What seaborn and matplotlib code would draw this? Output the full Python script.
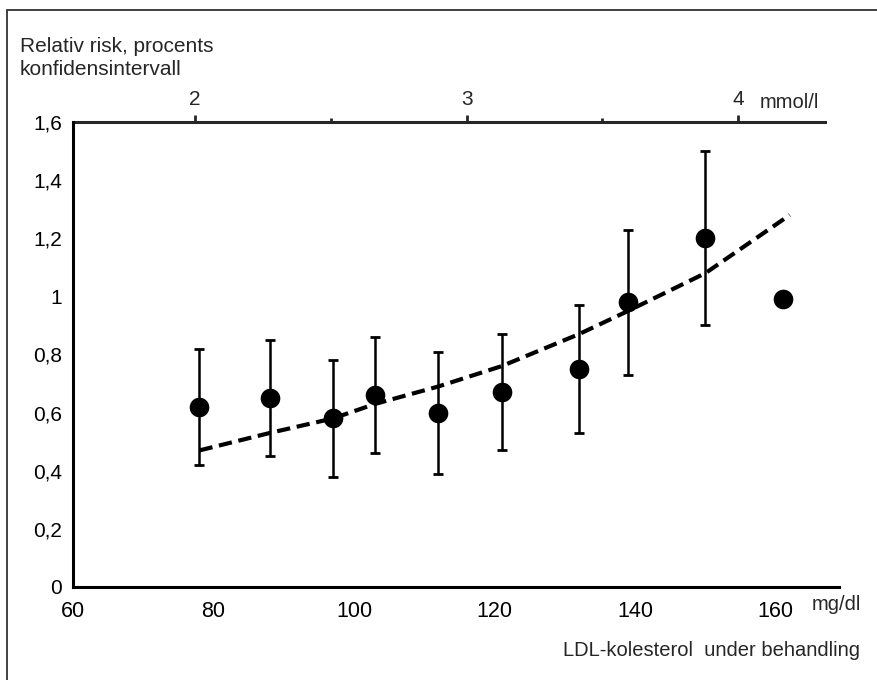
import matplotlib
matplotlib.use("Agg")
import matplotlib.pyplot as plt
import seaborn as sns
import pandas as pd
from matplotlib.patches import Rectangle
from matplotlib.ticker import FixedLocator

sns.set_style("white")
plt.rcParams['font.family'] = ['Liberation Sans', 'DejaVu Sans']

# LDL (mg/dl), relative risk and confidence interval
ldl = [78, 88, 97, 103, 112, 121, 132, 139, 150, 161]
risk = [0.62, 0.65, 0.58, 0.66, 0.60, 0.67, 0.75, 0.98, 1.20, 0.99]
ci_low = [0.42, 0.45, 0.38, 0.46, 0.39, 0.47, 0.53, 0.73, 0.90, None]
ci_high = [0.82, 0.85, 0.78, 0.86, 0.81, 0.87, 0.97, 1.23, 1.50, None]

# dashed trend curve
curve_x = [78, 88, 97, 103, 112, 121, 132, 139, 150, 162]
curve_y = [0.47, 0.53, 0.58, 0.63, 0.69, 0.76, 0.87, 0.95, 1.08, 1.28]

y_ticks = [0, 0.2, 0.4, 0.6, 0.8, 1.0, 1.2, 1.4, 1.6]
y_labels = ['0', '0,2', '0,4', '0,6', '0,8', '1', '1,2', '1,4', '1,6']
x_ticks = [60, 80, 100, 120, 140, 160]
mmol_ticks = [2, 3, 4]
mmol_minor = [2.5, 3.5]
MG_PER_MMOL = 38.67

df = pd.DataFrame({'ldl': ldl, 'risk': risk, 'lo': ci_low, 'hi': ci_high})
curve = pd.DataFrame({'x': curve_x, 'y': curve_y})

fig = plt.figure(figsize=(8.77, 6.80), dpi=100)
ax = fig.add_axes([73 / 877, 93 / 680, 773 / 877, 465 / 680])

# error bars
eb = df.dropna()
ax.errorbar(eb['ldl'], eb['risk'],
            yerr=[eb['risk'] - eb['lo'], eb['hi'] - eb['risk']],
            fmt='none', ecolor='black', elinewidth=1.8, capsize=3.8, capthick=2, zorder=2)

sns.lineplot(data=curve, x='x', y='y', ax=ax, color='black', linewidth=3,
             linestyle=(0, (3.2, 1.6)), zorder=3)
sns.scatterplot(data=df, x='ldl', y='risk', ax=ax, color='black', s=200,
                edgecolor='black', linewidth=0, zorder=4)

ax.set_xlim(60, 170)
ax.set_ylim(0, 1.6)
ax.set_xlabel('')
ax.set_ylabel('')
ax.set_yticks(y_ticks)
ax.set_yticklabels(y_labels)
ax.set_xticks(x_ticks)
ax.set_xticklabels([str(t) for t in x_ticks])
ax.tick_params(axis='both', which='major', direction='out', length=5, width=2,
               labelsize=15, color='black', labelcolor='black', pad=3)
ax.tick_params(axis='x', labelsize=15.5, pad=5)

for side in ['left', 'bottom']:
    ax.spines[side].set_linewidth(2.2)
    ax.spines[side].set_color('black')
ax.spines['right'].set_visible(False)
ax.spines['top'].set_visible(False)
ax.spines['bottom'].set_bounds(60, 169)

# top axis in mmol/l
top = ax.secondary_xaxis('top', functions=(lambda v: v / MG_PER_MMOL, lambda v: v * MG_PER_MMOL))
top.set_xticks(mmol_ticks)
top.set_xticklabels([str(t) for t in mmol_ticks], fontsize=15)
top.xaxis.set_minor_locator(FixedLocator(mmol_minor))
top.tick_params(axis='x', which='major', direction='out', length=5, width=2, pad=4)
top.tick_params(axis='x', which='minor', direction='out', length=3, width=2)
top.spines['top'].set_linewidth(2.2)
top.spines['top'].set_bounds(60 / MG_PER_MMOL, 167 / MG_PER_MMOL)

ax.grid(False)

# texts
fig.text(20 / 877, 1 - 58 / 680, 'Relativ risk, procents\nkonfidensintervall',
         fontsize=15, ha='left', va='center', linespacing=1.25)
fig.text(760 / 877, 1 - 103 / 680, 'mmol/l', fontsize=14.5, ha='left', va='center')
fig.text(812 / 877, 1 - 605 / 680, 'mg/dl', fontsize=14.5, ha='left', va='center')
fig.text(860 / 877, 1 - 650 / 680, 'LDL-kolesterol  under behandling',
         fontsize=14.5, ha='right', va='center')

# frame around the figure
fig.patches.append(Rectangle((7 / 877, -0.05), 1.2, 1.05 - 10 / 680,
                             transform=fig.transFigure, fill=False,
                             edgecolor='#333333', linewidth=1.3))

fig.savefig('out.png', dpi=100)
plt.close(fig)
